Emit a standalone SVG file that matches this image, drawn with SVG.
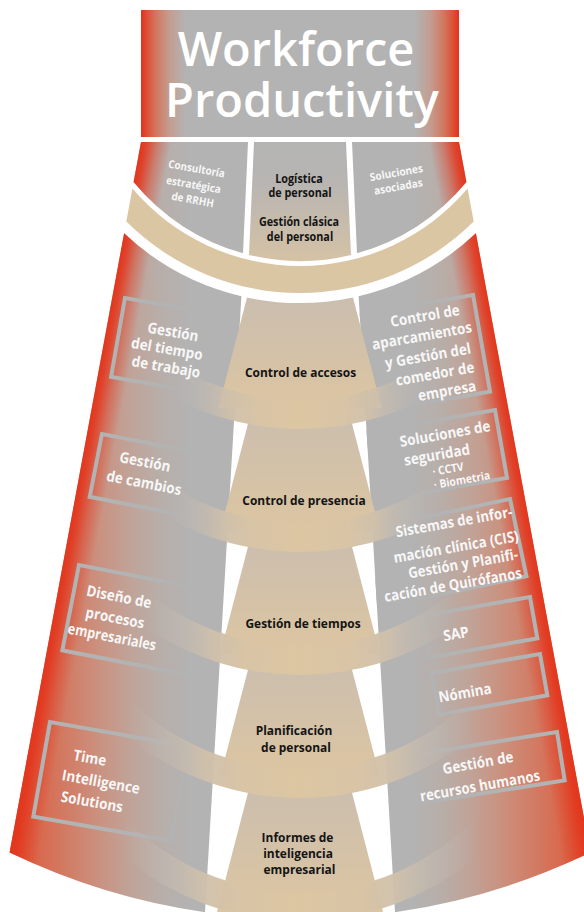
<svg xmlns="http://www.w3.org/2000/svg" width="584" height="912" viewBox="0 0 584 912">
<defs>
<style>
.f{font-family:"Open Sans","Noto Sans","DejaVu Sans",sans-serif;text-anchor:middle}
.ttl{fill:#fff;font-size:47px;font-weight:600}
.blk{fill:#141414;font-size:13px;font-weight:700}
.blks{fill:#141414;font-size:12px;font-weight:700}
.wht{fill:#f7f7f7;font-size:15px;font-weight:700}
.whts{fill:#f7f7f7;font-size:11px;font-weight:700}
.whtx{fill:#f7f7f7;font-size:11.5px;font-weight:700}
.frm{fill:none;stroke:#b3b3b3;stroke-width:4}
.band{fill:url(#gBand)}
.piece{fill:url(#gPiece)}
</style>
<linearGradient id="gTitle" gradientUnits="userSpaceOnUse" x1="141" y1="0" x2="459" y2="0">
<stop offset="0" stop-color="#e2311d"/>
<stop offset="0.02" stop-color="#dc5237"/>
<stop offset="0.05" stop-color="#d07a62"/>
<stop offset="0.09" stop-color="#c49d90"/>
<stop offset="0.14" stop-color="#b3b3b3"/>
<stop offset="0.86" stop-color="#b3b3b3"/>
<stop offset="0.91" stop-color="#c49d90"/>
<stop offset="0.95" stop-color="#d07a62"/>
<stop offset="0.98" stop-color="#dc5237"/>
<stop offset="1" stop-color="#e2311d"/>
</linearGradient>
<linearGradient id="gSide" gradientUnits="userSpaceOnUse" x1="0" y1="0" x2="600" y2="0">
<stop offset="0" stop-color="#e2401f"/>
<stop offset="0.0667" stop-color="#d86a4f"/>
<stop offset="0.1667" stop-color="#ca9280"/>
<stop offset="0.2167" stop-color="#c0a398"/>
<stop offset="0.2667" stop-color="#b8aea9"/>
<stop offset="0.3167" stop-color="#b3b3b3"/>
<stop offset="0.6833" stop-color="#b3b3b3"/>
<stop offset="0.7333" stop-color="#b8aea9"/>
<stop offset="0.7833" stop-color="#c0a398"/>
<stop offset="0.8333" stop-color="#ca9280"/>
<stop offset="0.9333" stop-color="#d86a4f"/>
<stop offset="1" stop-color="#e2401f"/>
</linearGradient>
<linearGradient id="gEdgeL" gradientUnits="userSpaceOnUse" x1="141" y1="142" x2="170.5" y2="147.5">
<stop offset="0" stop-color="#e3351c" stop-opacity="1"/>
<stop offset="0.2" stop-color="#e3351c" stop-opacity="0.85"/>
<stop offset="0.55" stop-color="#e3351c" stop-opacity="0.4"/>
<stop offset="1" stop-color="#e3351c" stop-opacity="0"/>
</linearGradient>
<linearGradient id="gEdgeR" gradientUnits="userSpaceOnUse" x1="459" y1="142" x2="429.5" y2="147.5">
<stop offset="0" stop-color="#e3351c" stop-opacity="1"/>
<stop offset="0.2" stop-color="#e3351c" stop-opacity="0.85"/>
<stop offset="0.55" stop-color="#e3351c" stop-opacity="0.4"/>
<stop offset="1" stop-color="#e3351c" stop-opacity="0"/>
</linearGradient>
<linearGradient id="gMid" x1="0" y1="0" x2="0" y2="1">
<stop offset="0" stop-color="#b4b4b4"/>
<stop offset="0.35" stop-color="#b8b5b2"/>
<stop offset="1" stop-color="#d5c2a5"/>
</linearGradient>
<linearGradient id="gPiece" x1="0" y1="0" x2="0" y2="1">
<stop offset="0" stop-color="#cbbeaf"/>
<stop offset="1" stop-color="#dcc5a1"/>
</linearGradient>
<linearGradient id="gBand" x1="0" y1="0" x2="1" y2="0">
<stop offset="0" stop-color="#bdb7b1" stop-opacity="0"/>
<stop offset="0.1" stop-color="#c3bab1" stop-opacity="0.45"/>
<stop offset="0.22" stop-color="#cfc0ab" stop-opacity="0.95"/>
<stop offset="0.32" stop-color="#d8c4a6" stop-opacity="1"/>
<stop offset="0.5" stop-color="#dcc6a2" stop-opacity="1"/>
<stop offset="0.68" stop-color="#d8c4a6" stop-opacity="1"/>
<stop offset="0.78" stop-color="#cfc0ab" stop-opacity="0.95"/>
<stop offset="0.9" stop-color="#c3bab1" stop-opacity="0.45"/>
<stop offset="1" stop-color="#bdb7b1" stop-opacity="0"/>
</linearGradient>
<clipPath id="colClip">
<path d="M124.1,233.2 A257,257 0 0 0 241.4,296.2 L205,912.2 A668,668 0 0 1 9.6,852.5 Z"/>
<path d="M475.9,233.2 A257,257 0 0 1 358.6,296.2 L395,912.2 A668,668 0 0 0 590.4,852.5 Z"/>
</clipPath>
</defs>

<g id="title">
<rect x="141" y="10" width="318" height="127" fill="url(#gTitle)"/>
<text class="f ttl"><tspan x="296" y="66">Workforce</tspan><tspan x="302" y="117">Productivity</tspan></text>
</g>

<g id="top-left">
<path d="M141,142 L248,142 L243,253.3 A215,215 0 0 1 133.6,182.1 Z" fill="url(#gSide)"/>
<path d="M141,142 L248,142 L243,253.3 A215,215 0 0 1 133.6,182.1 Z" fill="url(#gEdgeL)"/>
<text class="f whts" transform="translate(196,172.5) rotate(10) scale(0.9,1)">Consultoría</text>
<text class="f whts" transform="translate(193,188.5) rotate(10) scale(0.9,1)">estratégica</text>
<text class="f whts" transform="translate(192,203.5) rotate(10) scale(0.9,1)">de RRHH</text>
</g>

<g id="top-middle">
<path d="M254,142 L346,142 L351,254.9 A215,215 0 0 1 249,254.9 Z" fill="url(#gMid)"/>
<text class="f blks" transform="translate(299,183) scale(0.9,1)">Logística</text>
<text class="f blks" transform="translate(300,197) scale(0.9,1)">de personal</text>
<text class="f blks" transform="translate(299,226) scale(0.9,1)">Gestión clásica</text>
<text class="f blks" transform="translate(300,241) scale(0.9,1)">del personal</text>
</g>

<g id="top-right">
<path d="M459,142 L352,142 L357,253.3 A215,215 0 0 0 466.4,182.1 Z" fill="url(#gSide)"/>
<path d="M459,142 L352,142 L357,253.3 A215,215 0 0 0 466.4,182.1 Z" fill="url(#gEdgeR)"/>
<text class="f whts" transform="translate(397,176.5) rotate(-10) scale(0.92,1)">Soluciones</text>
<text class="f whts" transform="translate(399,190.5) rotate(-10) scale(0.92,1)">asociadas</text>
</g>

<g id="top-band">
<path d="M132.4,188.5 A220,220 0 0 0 467.6,188.5 L473.7,221.6 A247,247 0 0 1 126.3,221.6 Z" fill="#dbc6a3"/>
</g>

<g id="columns">
<path d="M124.1,233.2 A257,257 0 0 0 241.4,296.2 L205,912.2 A668,668 0 0 1 9.6,852.5 Z" fill="url(#gSide)"/>
<path d="M124.1,233.2 A257,257 0 0 0 241.4,296.2 L205,912.2 A668,668 0 0 1 9.6,852.5 Z" fill="url(#gEdgeL)"/>
<path d="M475.9,233.2 A257,257 0 0 1 358.6,296.2 L395,912.2 A668,668 0 0 0 590.4,852.5 Z" fill="url(#gSide)"/>
<path d="M475.9,233.2 A257,257 0 0 1 358.6,296.2 L395,912.2 A668,668 0 0 0 590.4,852.5 Z" fill="url(#gEdgeR)"/>
</g>

<g id="frames" clip-path="url(#colClip)">
<rect class="frm" transform="translate(125,298) rotate(10)" width="130" height="80"/>
<rect class="frm" transform="translate(102,434) rotate(11)" width="125" height="64"/>
<rect class="frm" transform="translate(79,565) rotate(11)" width="130" height="87"/>
<rect class="frm" transform="translate(50,722) rotate(10)" width="140" height="96"/>
<rect class="frm" transform="translate(473,295) rotate(-10)" x="-130" width="130" height="98"/>
<rect class="frm" transform="translate(495,410) rotate(-10)" x="-130" width="130" height="69"/>
<rect class="frm" transform="translate(510,499) rotate(-12)" x="-150" width="150" height="79"/>
<rect class="frm" transform="translate(530,597) rotate(-10)" x="-110" width="110" height="42"/>
<rect class="frm" transform="translate(540,654) rotate(-10)" x="-110" width="110" height="42"/>
<rect class="frm" transform="translate(557,732) rotate(-9)" x="-150" width="150" height="49"/>
</g>

<g id="control-accesos">
<path class="piece" d="M247,297.5 A257,257 0 0 0 353,297.5 L381.7,408 L218.3,408 Z"/>
<text class="f blk" transform="translate(300.5,377) scale(0.92,1)">Control de accesos</text>
</g>
<g id="control-presencia">
<path class="piece" d="M251.1,411.8 L348.9,411.8 L379.9,531 L220.1,531 Z"/>
<text class="f blk" transform="translate(304,505) scale(0.92,1)">Control de presencia</text>
</g>
<g id="gestion-tiempos">
<path class="piece" d="M251.1,534.8 L348.9,534.8 L379.9,654 L220.1,654 Z"/>
<text class="f blk" transform="translate(303,628) scale(0.92,1)">Gestión de tiempos</text>
</g>
<g id="planificacion">
<path class="piece" d="M251.1,657.8 L348.9,657.8 L379.9,777 L220.1,777 Z"/>
<text class="f blk" transform="translate(294,735) scale(0.92,1)">Planificación</text>
<text class="f blk" transform="translate(296,752) scale(0.92,1)">de personal</text>
</g>
<g id="informes">
<path class="piece" d="M251.1,780.8 L348.9,780.8 L383,912 L217,912 Z"/>
<text class="f blk" transform="translate(297.5,842) scale(0.92,1)">Informes de</text>
<text class="f blk" transform="translate(298,858) scale(0.92,1)">inteligencia</text>
<text class="f blk" transform="translate(299.5,874) scale(0.92,1)">empresarial</text>
</g>

<g id="bands">
<path class="band" d="M175,365.7 A245,245 0 0 0 425,365.7 L425,398.8 A274,274 0 0 1 175,398.8 Z"/>
<path class="band" d="M165,482.5 A245,245 0 0 0 435,482.5 L435,516.4 A274,274 0 0 1 165,516.4 Z"/>
<path class="band" d="M145,590.7 A245,245 0 0 0 455,590.7 L455,626.9 A274,274 0 0 1 145,626.9 Z"/>
<path class="band" d="M130,700.4 A245,245 0 0 0 470,700.4 L470,738.9 A274,274 0 0 1 130,738.9 Z"/>
<path class="band" d="M125,818.5 A245,245 0 0 0 475,818.5 L475,857.8 A274,274 0 0 1 125,857.8 Z"/>
</g>

<g id="tiempo-trabajo">
<text class="f wht" y="5" transform="translate(173,332) rotate(10) scale(0.9,1)">Gestión</text>
<text class="f wht" y="5" transform="translate(167,349) rotate(10) scale(0.9,1)">del tiempo</text>
<text class="f wht" y="5" transform="translate(166,367) rotate(10) scale(0.9,1)">de trabajo</text>
</g>
<g id="cambios">
<text class="f wht" y="5" transform="translate(145,462) rotate(11) scale(0.9,1)">Gestión</text>
<text class="f wht" y="5" transform="translate(144,483) rotate(11) scale(0.9,1)">de cambios</text>
</g>
<g id="diseno">
<text class="f wht" y="5" transform="translate(119,597) rotate(11) scale(0.9,1)">Diseño de</text>
<text class="f wht" y="5" transform="translate(115,618) rotate(11) scale(0.9,1)">procesos</text>
<text class="f wht" y="5" transform="translate(112,637) rotate(11) scale(0.84,1)">empresariales</text>
</g>
<g id="time-intelligence">
<text class="f wht" y="5" transform="translate(90,758) rotate(10) scale(0.9,1)">Time</text>
<text class="f wht" y="5" transform="translate(101,782) rotate(10) scale(0.9,1)">Intelligence</text>
<text class="f wht" y="5" transform="translate(92,802) rotate(10) scale(0.9,1)">Solutions</text>
</g>
<g id="aparcamientos">
<text class="f wht" y="5" transform="translate(425,316) rotate(-10) scale(0.9,1)">Control de</text>
<text class="f wht" y="5" transform="translate(422,336) rotate(-10) scale(0.9,1)">aparcamientos</text>
<text class="f wht" y="5" transform="translate(428,356) rotate(-10) scale(0.9,1)">y Gestión del</text>
<text class="f wht" y="5" transform="translate(435,374) rotate(-10) scale(0.9,1)">comedor de</text>
<text class="f wht" y="5" transform="translate(447,391) rotate(-10) scale(0.9,1)">empresa</text>
</g>
<g id="seguridad">
<text class="f wht" y="5" transform="translate(445,434) rotate(-10) scale(0.9,1)">Soluciones de</text>
<text class="f wht" y="5" transform="translate(437,455) rotate(-10) scale(0.9,1)">seguridad</text>
<text class="f whtx" y="4" transform="translate(448,469) rotate(-10) scale(0.9,1)">· CCTV</text>
<text class="f whtx" y="4" transform="translate(462,480) rotate(-10) scale(0.9,1)">· Biometria</text>
</g>
<g id="cis">
<text class="f wht" y="5" transform="translate(454,522) rotate(-10) scale(0.88,1)">Sistemas de infor-</text>
<text class="f wht" y="5" transform="translate(456,547) rotate(-10) scale(0.88,1)">mación clínica (CIS)</text>
<text class="f wht" y="5" transform="translate(463,564) rotate(-10) scale(0.88,1)">Gestión y Planifi-</text>
<text class="f wht" y="5" transform="translate(453,585) rotate(-10) scale(0.88,1)">cación de Quirófanos</text>
</g>
<g id="sap">
<text class="f wht" y="5" transform="translate(456,634) rotate(-10) scale(0.92,1)">SAP</text>
</g>
<g id="nomina">
<text class="f wht" y="5" transform="translate(465,693) rotate(-10) scale(0.9,1)">Nómina</text>
</g>
<g id="rrhh">
<text class="f wht" y="5" transform="translate(478,763) rotate(-10) scale(0.9,1)">Gestión de</text>
<text class="f wht" y="5" transform="translate(480,786) rotate(-10) scale(0.88,1)">recursos humanos</text>
</g>
</svg>
